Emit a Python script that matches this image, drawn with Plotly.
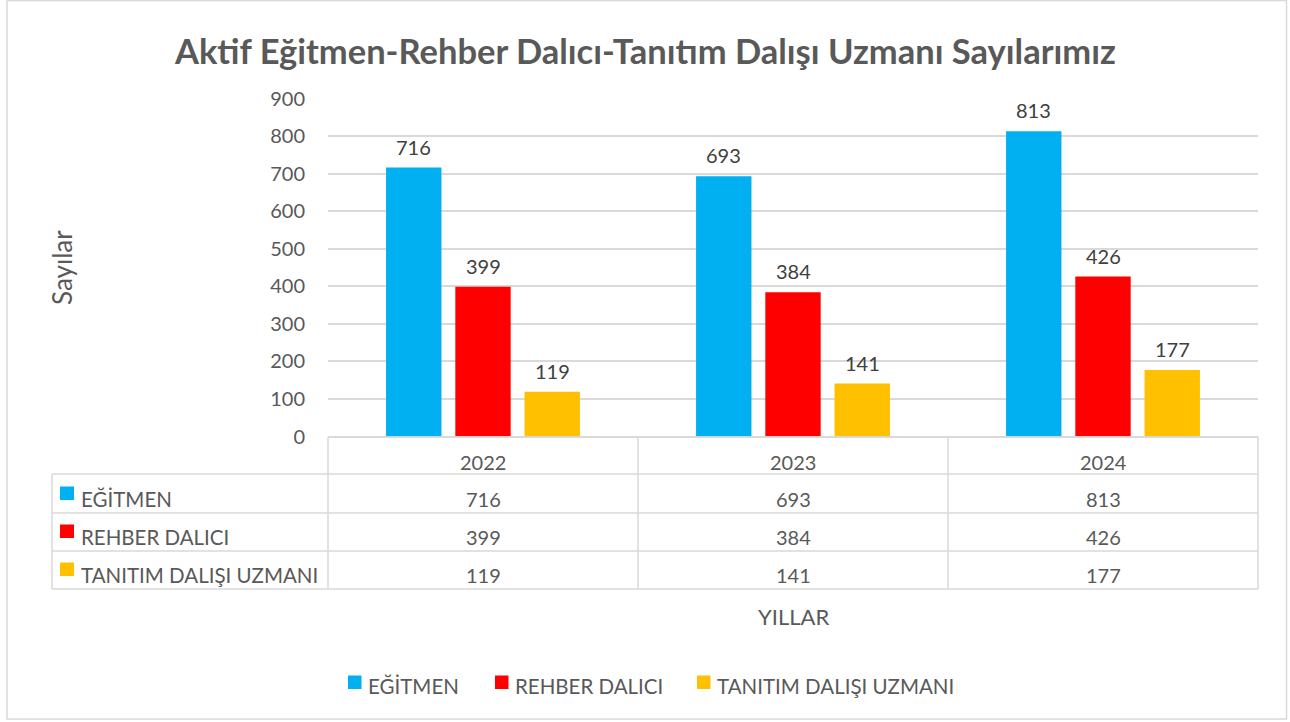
import plotly.graph_objects as go

W, H = 1290, 722

years = ["2022", "2023", "2024"]
series_names = ["EĞİTMEN", "REHBER DALICI", "TANITIM DALIŞI UZMANI"]
egitmen = [716, 693, 813]
rehber = [399, 384, 426]
tanitim = [119, 141, 177]
colors = ["#00B0F0", "#FF0000", "#FFC000"]
y_ticks = [0, 100, 200, 300, 400, 500, 600, 700, 800, 900]

title_text = "Aktif Eğitmen-Rehber Dalıcı-Tanıtım Dalışı Uzmanı Sayılarımız"
y_title = "Sayılar"
x_title = "YILLAR"

FONT = "Lato"
TXT = "#595959"
GRID = "#D9D9D9"


def px(x):
    return x / W


def py(y):
    return 1 - y / H


# plot area in pixels
L, R, T, B = 328, 1258, 98.5, 436.5
BARGAP, GROUPGAP = 0.33, 0.2

values = [egitmen, rehber, tanitim]

fig = go.Figure()
for name, vals, col in zip(series_names, values, colors):
    fig.add_trace(go.Bar(
        x=years, y=vals, name=name, marker=dict(color=col, line=dict(width=0)),
        showlegend=False, hoverinfo="x+y+name",
    ))

shapes = []
annotations = []

# data labels above bars (anchored to data coordinates; category index on x)
cat_w = (R - L) / len(years)
slot = cat_w * (1 - BARGAP) / len(series_names)
for i, vals in enumerate(values):
    for j, v in enumerate(vals):
        annotations.append(dict(xref="x", yref="y", x=j, y=v, text=str(v),
                                showarrow=False, xanchor="center", yanchor="bottom",
                                xshift=(i - 1) * slot, yshift=7,
                                font=dict(family=FONT, size=20, color="#404040")))

# outer border
shapes.append(dict(type="rect", xref="paper", yref="paper",
                   x0=px(7), x1=px(1286.5), y0=py(719), y1=py(0.5),
                   line=dict(color=GRID, width=1.5), fillcolor="rgba(0,0,0,0)"))

# data table lines
tbl_rows = [437, 474, 513, 551, 589]
col_x = [328, 638, 948, 1258]
tbl_left = 52
for i, yv in enumerate(tbl_rows):
    x0 = L if i == 0 else tbl_left
    shapes.append(dict(type="line", xref="paper", yref="paper",
                       x0=px(x0), x1=px(R), y0=py(yv), y1=py(yv),
                       line=dict(color=GRID, width=1.5)))
for cx in col_x:
    shapes.append(dict(type="line", xref="paper", yref="paper",
                       x0=px(cx), x1=px(cx), y0=py(437), y1=py(589),
                       line=dict(color=GRID, width=1.5)))
shapes.append(dict(type="line", xref="paper", yref="paper",
                   x0=px(tbl_left), x1=px(tbl_left), y0=py(474), y1=py(589),
                   line=dict(color=GRID, width=1.5)))

# table text
text_y = [462, 499, 537, 575]
col_centers = [(col_x[i] + col_x[i + 1]) / 2 for i in range(3)]
for j, yr in enumerate(years):
    annotations.append(dict(xref="paper", yref="paper", x=px(col_centers[j]), y=py(text_y[0]),
                            text=yr, showarrow=False, xanchor="center", yanchor="middle",
                            font=dict(family=FONT, size=20, color=TXT)))
for i, (name, vals, col) in enumerate(zip(series_names, values, colors)):
    ty = text_y[i + 1]
    shapes.append(dict(type="rect", xref="paper", yref="paper",
                       x0=px(60), x1=px(74), y0=py(ty - 12.5), y1=py(ty + 1),
                       line=dict(width=0), fillcolor=col))
    annotations.append(dict(xref="paper", yref="paper", x=px(79), y=py(ty),
                            text=name, showarrow=False, xanchor="left", yanchor="middle",
                            font=dict(family=FONT, size=20.5, color=TXT)))
    for j, v in enumerate(vals):
        annotations.append(dict(xref="paper", yref="paper", x=px(col_centers[j]), y=py(ty),
                                text=str(v), showarrow=False, xanchor="center", yanchor="middle",
                                font=dict(family=FONT, size=20, color=TXT)))

# bottom legend
leg_sq = [348, 495, 697]
for name, col, sx in zip(series_names, colors, leg_sq):
    shapes.append(dict(type="rect", xref="paper", yref="paper",
                       x0=px(sx), x1=px(sx + 13.5), y0=py(689), y1=py(675.5),
                       line=dict(width=0), fillcolor=col))
    annotations.append(dict(xref="paper", yref="paper", x=px(sx + 18), y=py(686),
                            text=name, showarrow=False, xanchor="left", yanchor="middle",
                            font=dict(family=FONT, size=20.5, color=TXT)))

# titles
annotations.append(dict(xref="paper", yref="paper", x=px(645), y=py(51), text=f"<b>{title_text}</b>",
                        showarrow=False, xanchor="center", yanchor="middle",
                        font=dict(family=FONT, size=34.5, color=TXT)))
annotations.append(dict(xref="paper", yref="paper", x=px(62), y=py(268), text=y_title, textangle=-90,
                        showarrow=False, xanchor="center", yanchor="middle",
                        font=dict(family=FONT, size=26, color=TXT)))
annotations.append(dict(xref="paper", yref="paper", x=px(793), y=py(616), text=x_title,
                        showarrow=False, xanchor="center", yanchor="middle",
                        font=dict(family=FONT, size=22, color=TXT)))

fig.update_layout(
    width=W, height=H, autosize=False,
    margin=dict(l=0, r=0, t=0, b=0, pad=0, autoexpand=False),
    paper_bgcolor="white", plot_bgcolor="white",
    barmode="group", bargap=BARGAP, bargroupgap=GROUPGAP,
    shapes=shapes, annotations=annotations,
    xaxis=dict(domain=[px(L), px(R)], range=[-0.5, 2.5], type="category", automargin=False,
               showticklabels=False, showgrid=False, zeroline=False, showline=False, fixedrange=True),
    yaxis=dict(domain=[py(B), py(T)], range=[0, 900], tickvals=y_ticks, automargin=False,
               showgrid=True, gridcolor=GRID, gridwidth=1.5, zeroline=True, zerolinecolor=GRID,
               zerolinewidth=1.5, showline=False, ticks="", ticklabelstandoff=22,
               tickfont=dict(family=FONT, size=20, color=TXT), fixedrange=True),
    font=dict(family=FONT, color=TXT),
)

post = ("document.body.style.margin='0';document.body.style.overflow='hidden';"
        "var d=document.getElementById('{plot_id}');d.style.position='absolute';"
        "d.style.left='0px';d.style.top='0px';")
fig.write_html("out.html", config={"displayModeBar": False, "responsive": False}, post_script=post)
